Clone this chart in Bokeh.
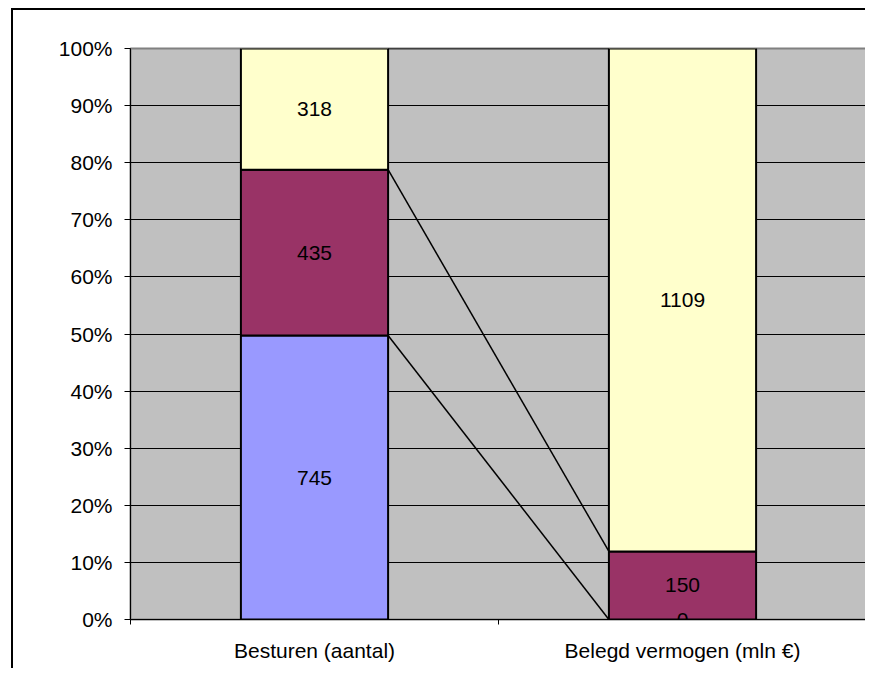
import numpy as np
from bokeh.plotting import figure
from bokeh.models import ColumnDataSource, Range1d, FixedTicker, NumeralTickFormatter, LabelSet
from bokeh.core.properties import value
from bokeh.embed import file_html
from bokeh.resources import INLINE

categories = ["Besturen (aantal)", "Belegd vermogen (mln €)"]
series_blue = [745, 0]
series_purple = [435, 150]
series_yellow = [318, 1109]
y_ticks = [0.0, 0.1, 0.2, 0.3, 0.4, 0.5, 0.6, 0.7, 0.8, 0.9, 1.0]

colors = ["#9999FF", "#993366", "#FFFFCC"]
FONT = "Liberation Sans"
FS = "21px"

vals = np.array([series_blue, series_purple, series_yellow], dtype=float)
totals = vals.sum(axis=0)
frac = vals / totals
tops = np.cumsum(frac, axis=0)
bottoms = tops - frac
xpos = np.arange(len(categories)) + 0.5
bar_w = 0.4

p = figure(width=854, height=660, x_range=Range1d(0, len(categories)), y_range=Range1d(0, 1),
           output_backend="svg", toolbar_location=None,
           min_border_left=117, min_border_right=1, min_border_top=38, min_border_bottom=51)
p.styles = {"margin-left": "11px", "margin-top": "8px",
            "border-left": "2px solid black", "border-top": "2px solid black"}
p.background_fill_color = "#C0C0C0"
p.border_fill_color = "white"
p.outline_line_color = "#808080"
p.outline_line_width = 2

p.xgrid.visible = False
p.ygrid.ticker = FixedTicker(ticks=y_ticks)
p.ygrid.grid_line_color = "black"
p.ygrid.grid_line_width = 1

# series lines
for i in range(len(colors)):
    p.segment(x0=[xpos[0] + bar_w / 2], y0=[tops[i][0]], x1=[xpos[1] - bar_w / 2], y1=[tops[i][1]],
              line_color="black", line_width=1.5)

for i, c in enumerate(colors):
    src = ColumnDataSource(dict(x=xpos, top=tops[i], bottom=bottoms[i]))
    p.vbar(x="x", top="top", bottom="bottom", width=bar_w, source=src,
           fill_color=c, line_color="black", line_width=2)

lx, ly, lt = [], [], []
for i in range(len(colors)):
    for j in range(len(categories)):
        lx.append(xpos[j])
        ly.append((tops[i][j] + bottoms[i][j]) / 2)
        lt.append(str(int(vals[i][j])))
lab_src = ColumnDataSource(dict(x=lx, y=ly, t=lt))
p.add_layout(LabelSet(x="x", y="y", text="t", source=lab_src, text_align="center",
                      text_baseline="middle", text_font=value(FONT), text_font_size=FS,
                      text_color="black"))

# y axis
p.yaxis.ticker = FixedTicker(ticks=y_ticks)
p.yaxis.formatter = NumeralTickFormatter(format="0%")
p.yaxis.major_label_text_font = FONT
p.yaxis.major_label_text_font_size = FS
p.yaxis.major_label_text_color = "black"
p.yaxis.axis_line_color = "black"
p.yaxis.major_tick_line_color = "black"
p.yaxis.major_tick_out = 6
p.yaxis.major_tick_in = 0
p.yaxis.minor_tick_line_color = None
p.yaxis.major_label_standoff = 12

# x axis
p.xaxis.ticker = FixedTicker(ticks=list(xpos), minor_ticks=list(range(len(categories) + 1)))
p.xaxis.major_label_overrides = {float(x): c for x, c in zip(xpos, categories)}
p.xaxis.major_label_text_font = FONT
p.xaxis.major_label_text_font_size = FS
p.xaxis.major_label_text_color = "black"
p.xaxis.axis_line_color = "black"
p.xaxis.major_tick_line_color = None
p.xaxis.major_tick_out = 0
p.xaxis.major_tick_in = 0
p.xaxis.minor_tick_line_color = "black"
p.xaxis.minor_tick_out = 5
p.xaxis.minor_tick_in = 0
p.xaxis.major_label_standoff = 14

open("out.html", "w").write(file_html(p, INLINE))
